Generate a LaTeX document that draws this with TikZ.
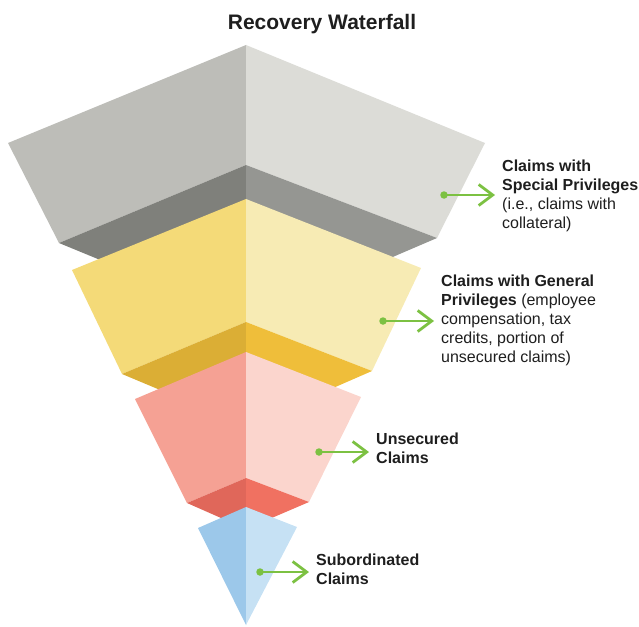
\documentclass[tikz,border=0pt]{standalone}
\usepackage{fontspec}
\setmainfont{Liberation Sans}
\usetikzlibrary{arrows.meta}
\definecolor{greyL}{HTML}{BDBDB8}
\definecolor{greyR}{HTML}{DCDCD7}
\definecolor{greyLD}{HTML}{7F807B}
\definecolor{greyRD}{HTML}{959692}
\definecolor{yellowL}{HTML}{F4DA78}
\definecolor{yellowR}{HTML}{F7EBB4}
\definecolor{yellowLD}{HTML}{DBAE35}
\definecolor{yellowRD}{HTML}{EFBE3A}
\definecolor{redL}{HTML}{F5A194}
\definecolor{redR}{HTML}{FBD5CD}
\definecolor{redLD}{HTML}{E0675A}
\definecolor{redRD}{HTML}{F07161}
\definecolor{blueL}{HTML}{9CC8EA}
\definecolor{blueR}{HTML}{C6E1F4}
\definecolor{claimgreen}{HTML}{7CC142}
\definecolor{labeltext}{HTML}{1E1E1E}

\begin{document}
\begin{tikzpicture}[x=1pt, y=-1pt,
	claim/.style={anchor=west, inner sep=0pt, align=left, text=labeltext, font=\fontsize{16}{19}\selectfont},
	dot/.style={circle, fill=claimgreen, inner sep=0pt, minimum size=7.5pt},
	claimarrow/.style={claimgreen, line width=2.8pt, -{Straight Barb[length=14pt, width=21pt]}, shorten >=7pt}]
	\useasboundingbox (0,0) rectangle (639,626);
	\node[font=\bfseries\fontsize{21}{25}\selectfont, text=labeltext] (title) at (322,24) {Recovery Waterfall};
	\fill[greyL] (246,45) -- (8,143) -- (59,243) -- (246,165) -- cycle;
	\fill[greyR] (246,45) -- (485,143) -- (437,238) -- (246,165) -- cycle;
	\fill[greyLD] (246,165) -- (59,243) -- (246,320) -- cycle;
	\fill[greyRD] (246,165) -- (437,238) -- (246,320) -- cycle;
	\fill[yellowL] (246,199) -- (72,270) -- (122,374) -- (246,322) -- cycle;
	\fill[yellowR] (246,199) -- (421,268) -- (372,371) -- (246,322) -- cycle;
	\fill[yellowLD] (246,322) -- (122,374) -- (246,426) -- cycle;
	\fill[yellowRD] (246,322) -- (372,371) -- (246,426) -- cycle;
	\fill[redL] (246,352) -- (135,399) -- (187,503) -- (246,478) -- cycle;
	\fill[redR] (246,352) -- (361,397) -- (309,502) -- (246,478) -- cycle;
	\fill[redLD] (246,478) -- (187,503) -- (246,529) -- cycle;
	\fill[redRD] (246,478) -- (309,502) -- (246,529) -- cycle;
	\fill[blueL] (246,507) -- (198,528) -- (246,625) -- cycle;
	\fill[blueR] (246,507) -- (297,527) -- (246,625) -- cycle;
	\node[claim] (special) at (502,196) {\textbf{Claims with}\\\textbf{Special Privileges}\\(i.e., claims with\\collateral)};
	\node[claim] (general) at (441,320) {\textbf{Claims with General}\\\textbf{Privileges} (employee\\compensation, tax\\credits, portion of\\unsecured claims)};
	\node[claim] (unsecured) at (376,448) {\textbf{Unsecured}\\\textbf{Claims}};
	\node[claim] (subordinated) at (316,569) {\textbf{Subordinated}\\\textbf{Claims}};
	\node[dot] (dspecial) at (444,195) {};
	\node[dot] (dgeneral) at (383,321) {};
	\node[dot] (dunsecured) at (319,452) {};
	\node[dot] (dsubordinated) at (260,572) {};
	\draw[claimarrow] (dspecial.center) -- (dspecial -| special.west);
	\draw[claimarrow] (dgeneral.center) -- (dgeneral -| general.west);
	\draw[claimarrow] (dunsecured.center) -- (dunsecured -| unsecured.west);
	\draw[claimarrow] (dsubordinated.center) -- (dsubordinated -| subordinated.west);
\end{tikzpicture}
\end{document}
